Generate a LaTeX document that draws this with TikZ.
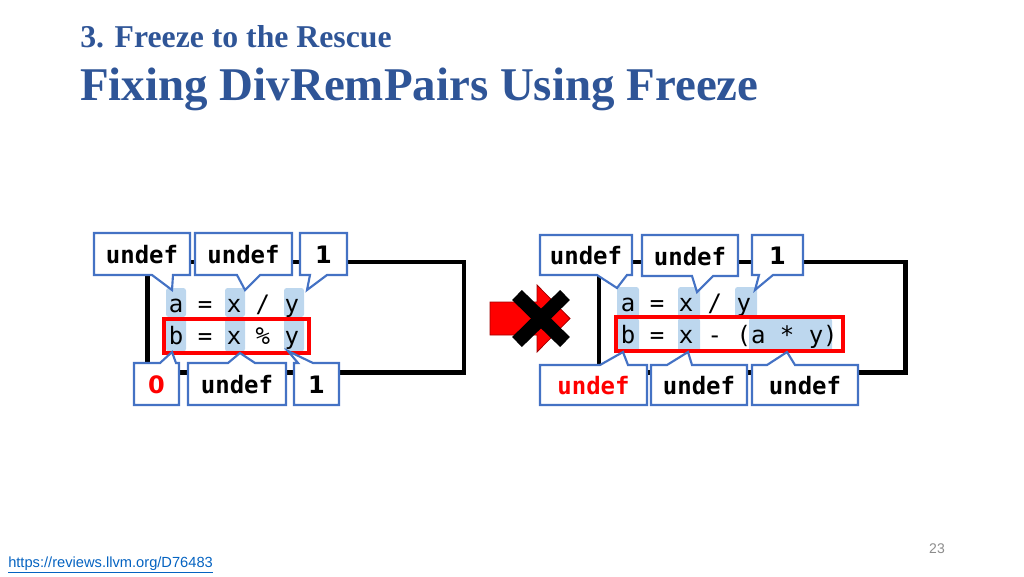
\documentclass[tikz,border=0pt]{standalone}
\usepackage{fontspec}
\setmainfont{Liberation Serif}
\newfontfamily\codefont{DejaVu Sans Mono}
\newfontfamily\slidesans{Liberation Sans}
\newfontfamily\digitfont{DejaVu Sans}
\definecolor{titleblue}{HTML}{2F5597}
\definecolor{callblue}{HTML}{4472C4}
\definecolor{hlblue}{HTML}{BDD7EE}
\definecolor{linkblue}{HTML}{0563C1}
\definecolor{pagegray}{HTML}{8C8C8C}
\definecolor{darkred}{HTML}{A00000}
\tikzset{
  frame/.style={draw=black, line width=3.6pt},
  redbox/.style={draw=red, line width=3pt},
  hl/.style={fill=hlblue, rounded corners=2pt, draw=none},
  codeline/.style={anchor=base west, inner sep=0pt, font=\codefont\fontsize{18}{18}\selectfont},
  callbox/.style={draw=callblue, fill=white, line width=1.6pt, line join=miter},
  calltext/.style={inner sep=0pt, font=\codefont\bfseries\fontsize{18}{18}\selectfont},
}
% callout with pointer on bottom edge: name, x1,y1,x2,y2, base1, base2, tip, text
\newcommand\calloutdown[9]{%
  \path[callbox] (#2,#3) -- (#4,#3) -- (#4,#5) -- (#7,#5) -- (#8) -- (#6,#5) -- (#2,#5) -- cycle;
  \node[calltext] (#1) at ({(#2+#4)/2},{(#3+#5)/2+1}) {#9};}
% callout with pointer on top edge
\newcommand\calloutup[9]{%
  \path[callbox] (#2,#3) -- (#6,#3) -- (#8) -- (#7,#3) -- (#4,#3) -- (#4,#5) -- (#2,#5) -- cycle;
  \node[calltext] (#1) at ({(#2+#4)/2},{(#3+#5)/2+1}) {#9};}
\newcommand\dg[1]{{\digitfont\bfseries #1}}
\begin{document}
\begin{tikzpicture}[x=0.75pt,y=-0.75pt]
\useasboundingbox (0,0) rectangle (1024,576);
% titles
\node[anchor=base west, inner sep=0pt, text=titleblue, font=\bfseries\fontsize{23.8}{24}\selectfont] (sub) at (80,47) {3. Freeze to the Rescue};
\node[anchor=base west, inner sep=0pt, text=titleblue, font=\bfseries\fontsize{35.2}{35}\selectfont] (title) at (80,100) {Fixing DivRemPairs Using Freeze};

% ---------- left diagram ----------
\draw[frame] (147.5,262) rectangle (464,372.5);
\node[hl, minimum width=20*0.75pt, minimum height=29*0.75pt] (la1) at (176,302.5) {};
\node[hl, minimum width=20*0.75pt, minimum height=29*0.75pt] (lx1) at (235,302.5) {};
\node[hl, minimum width=20*0.75pt, minimum height=29*0.75pt] (ly1) at (294,302.5) {};
\node[hl, minimum width=20*0.75pt, minimum height=33*0.75pt] (lb2) at (176,335) {};
\node[hl, minimum width=20*0.75pt, minimum height=33*0.75pt] (lx2) at (235,335) {};
\node[hl, minimum width=20*0.75pt, minimum height=33*0.75pt] (ly2) at (294,335) {};
\node[codeline] (lcode1) at (168.7,312) {a = x / y};
\node[codeline] (lcode2) at (168.7,344) {b = x \% y};
\draw[redbox] (164,319) rectangle (309,353);

\calloutdown{lt1}{94}{233}{190}{275}{152}{173}{172,290}{undef}
\calloutdown{lt2}{195}{233}{292}{275}{237}{260}{245,290}{undef}
\calloutdown{lt3}{300}{233}{347}{275}{310}{327}{307,290}{\dg{1}}
\calloutup{lb1}{134}{363}{179}{405}{160}{176}{172,352}{\textcolor{red}{\dg{0}}}
\calloutup{lb2x}{188}{363}{286}{405}{228}{255}{240,353}{undef}
\calloutup{lb3}{294}{363}{339}{405}{298}{313}{288,351}{\dg{1}}

% ---------- crossed arrow ----------
\path[fill=red, draw=darkred, line width=0.6pt] (490,302) -- (537,302) -- (537,285) -- (570,318.5) -- (537,352) -- (537,335) -- (490,335) -- cycle;
\coordinate (xa) at (517,295);
\coordinate (xb) at (565,342);
\coordinate (xc) at (565,295);
\coordinate (xd) at (517,342);
\draw[line width=10.5pt, black] (xa) -- (xb);
\draw[line width=10.5pt, black] (xc) -- (xd);

% ---------- right diagram ----------
\draw[frame] (599,262) rectangle (905.5,372.5);
\node[hl, minimum width=22*0.75pt, minimum height=30*0.75pt] (ra1) at (628,302) {};
\node[hl, minimum width=22*0.75pt, minimum height=30*0.75pt] (rx1) at (689,302) {};
\node[hl, minimum width=22*0.75pt, minimum height=30*0.75pt] (ry1) at (746,302) {};
\node[hl, minimum width=22*0.75pt, minimum height=34*0.75pt] (rb2) at (628,335) {};
\node[hl, minimum width=22*0.75pt, minimum height=34*0.75pt] (rx2) at (689,335) {};
\node[hl, minimum width=83*0.75pt, minimum height=34*0.75pt] (ray2) at (790.5,335) {};
\node[codeline] (rcode1) at (620.7,311) {a = x / y};
\node[codeline] (rcode2) at (620.7,343) {b = x - (a * y)};
\draw[redbox] (616,316.5) rectangle (843,351);

\calloutdown{rt1}{540}{235}{632}{275}{597}{627}{617,288}{undef}
\calloutdown{rt2}{642}{235}{738}{276}{692}{713}{697,292}{undef}
\calloutdown{rt3}{752}{235}{803}{275}{759}{773}{755,290}{\dg{1}}
\calloutup{rb1}{540}{365}{647}{405}{600}{628}{623,352}{\textcolor{red}{undef}}
\calloutup{rb2x}{651}{365}{747}{405}{667}{692}{688,352}{undef}
\calloutup{rb3}{752}{365}{858}{405}{767}{795}{787,352}{undef}

% footer
\node[anchor=base west, inner sep=0pt, text=linkblue, font=\slidesans\fontsize{11}{11}\selectfont] (url) at (8,567) {\underline{https://reviews.llvm.org/D76483}};
\node[inner sep=0pt, text=pagegray, font=\slidesans\fontsize{10.5}{10.5}\selectfont] (page) at (937,548.5) {23};
\end{tikzpicture}
\end{document}
